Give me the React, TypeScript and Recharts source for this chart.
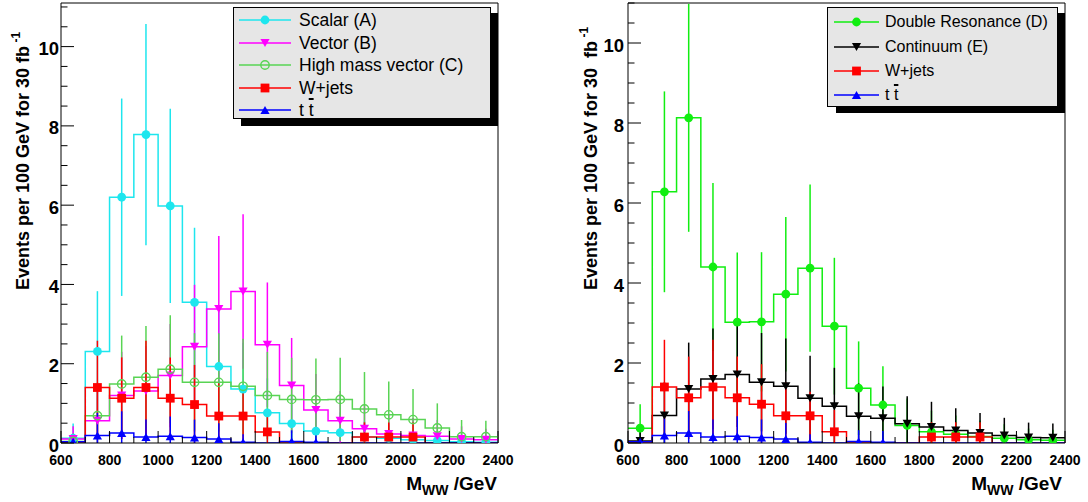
import React from 'react';
import { ComposedChart, Line, Scatter, ErrorBar, XAxis, YAxis, ReferenceLine, Label } from 'recharts';

// ---------- categories / ticks ----------
const binCenters = [650, 750, 850, 950, 1050, 1150, 1250, 1350, 1450, 1550, 1650, 1750, 1850, 1950, 2050, 2150, 2250, 2350];
const BIN_HALF = 50;
const xTicks = [600, 700, 800, 900, 1000, 1100, 1200, 1300, 1400, 1500, 1600, 1700, 1800, 1900, 2000, 2100, 2200, 2300, 2400];
const xTickLabels = [600, 800, 1000, 1200, 1400, 1600, 1800, 2000, 2200, 2400];
const yTicks = [0, 0.5, 1, 1.5, 2, 2.5, 3, 3.5, 4, 4.5, 5, 5.5, 6, 6.5, 7, 7.5, 8, 8.5, 9, 9.5, 10, 10.5, 11];
const yTickLabels = [0, 2, 4, 6, 8, 10];

// ---------- left panel series ----------
const scalarA = [0.12, 2.31, 6.2, 7.78, 5.98, 3.55, 1.93, 1.36, 0.76, 0.49, 0.3, 0.26, 0.15, 0.12, 0.08, 0.06, 0.03, 0.02];
const scalarAErr = [0.37, 1.52, 2.49, 2.79, 2.45, 1.88, 1.39, 1.17, 0.87, 0.7, 0.55, 0.51, 0.39, 0.35, 0.28, 0.25, 0.18, 0.14];
const vectorB = [0.1, 0.56, 1.2, 1.31, 1.7, 2.43, 3.38, 3.82, 2.48, 1.45, 0.83, 0.56, 0.36, 0.23, 0.19, 0.17, 0.1, 0.08];
const vectorBErr = [0.32, 0.75, 1.1, 1.14, 1.3, 1.56, 1.84, 1.95, 1.57, 1.2, 0.91, 0.75, 0.6, 0.48, 0.44, 0.41, 0.32, 0.28];
const highMassC = [0.04, 0.69, 1.49, 1.66, 1.86, 1.53, 1.53, 1.43, 1.2, 1.1, 1.09, 1.1, 0.86, 0.71, 0.59, 0.38, 0.16, 0.16];
const highMassCErr = [0.2, 0.83, 1.22, 1.29, 1.36, 1.24, 1.24, 1.2, 1.1, 1.05, 1.04, 1.05, 0.93, 0.84, 0.77, 0.62, 0.42, 0.4];
const wJets = [0, 1.4, 1.13, 1.4, 1.13, 0.97, 0.68, 0.68, 0.28, 0, 0, 0, 0.15, 0.15, 0.15, 0, 0, 0];
const wJetsErr = [0, 1.18, 1.03, 1.18, 1.03, 1.0, 0.83, 0.6, 0.55, 0, 0, 0, 0.37, 0.37, 0.37, 0, 0, 0];
const ttbar = [0.03, 0.19, 0.25, 0.15, 0.17, 0.14, 0.1, 0.02, 0, 0.04, 0.02, 0, 0, 0, 0, 0, 0, 0];
const ttbarErr = [0.1, 0.57, 0.55, 0.44, 0.5, 0.45, 0.4, 0.2, 0, 0.28, 0.28, 0, 0, 0, 0, 0, 0, 0];

// ---------- right panel series ----------
const doubleResD = [0.37, 6.28, 8.13, 4.4, 3.02, 3.03, 3.72, 4.37, 2.92, 1.37, 0.95, 0.44, 0.28, 0.22, 0.16, 0.12, 0.08, 0.07];
const doubleResDErr = [0.6, 2.51, 2.85, 2.1, 1.74, 1.74, 1.93, 2.09, 1.71, 1.17, 0.97, 0.67, 0.53, 0.47, 0.4, 0.35, 0.28, 0.26];
const continuumE = [0.05, 0.69, 1.35, 1.6, 1.71, 1.52, 1.42, 1.12, 0.92, 0.67, 0.62, 0.48, 0.4, 0.31, 0.25, 0.19, 0.14, 0.13];
const continuumEErr = [0.22, 0.83, 1.16, 1.26, 1.31, 1.23, 1.19, 1.06, 0.96, 0.82, 0.79, 0.69, 0.63, 0.56, 0.5, 0.44, 0.37, 0.36];

// ---------- styles ----------
const FONT = '"Liberation Sans", Arial, Helvetica, sans-serif';
const C_CYAN = '#1ee6ee';
const C_MAG = '#ff00ff';
const C_HMV = '#59d454';
const C_RED = '#ff0000';
const C_BLUE = '#0000ff';
const C_GREEN = '#11ee11';
const C_BLACK = '#000000';

type MarkerKind = 'circle' | 'open' | 'square' | 'down' | 'up';

function MarkerShape({ kind, cx, cy, color }: { kind: MarkerKind; cx: number; cy: number; color: string }) {
  if (cx == null || cy == null || isNaN(cx) || isNaN(cy)) return <g />;
  switch (kind) {
    case 'circle':
      return <circle cx={cx} cy={cy} r={4.4} fill={color} />;
    case 'open':
      return <circle cx={cx} cy={cy} r={4.2} fill="none" stroke={color} strokeWidth={1.4} />;
    case 'square':
      return <rect x={cx - 4.4} y={cy - 4.4} width={8.8} height={8.8} fill={color} />;
    case 'down':
      return <polygon points={`${cx - 4.6},${cy - 4} ${cx + 4.6},${cy - 4} ${cx},${cy + 4}`} fill={color} />;
    case 'up':
      return <polygon points={`${cx - 4.6},${cy + 4} ${cx + 4.6},${cy + 4} ${cx},${cy - 4}`} fill={color} />;
  }
  return <g />;
}

interface SeriesDef {
  name: string;
  vals: number[];
  errs: number[];
  color: string;
  marker: MarkerKind;
}

function stepData(vals: number[]) {
  const pts = binCenters.map((c, i) => ({ x: c - BIN_HALF, y: vals[i] }));
  pts.push({ x: binCenters[binCenters.length - 1] + BIN_HALF, y: vals[vals.length - 1] });
  return pts;
}

function pointData(vals: number[], errs: number[]) {
  return binCenters
    .map((c, i) => ({ x: c, y: vals[i], err: [Math.min(errs[i], vals[i]), errs[i]] }))
    .filter((p) => p.y > 0);
}

const leftSeries: SeriesDef[] = [
  { name: 'A', vals: scalarA, errs: scalarAErr, color: C_CYAN, marker: 'circle' },
  { name: 'B', vals: vectorB, errs: vectorBErr, color: C_MAG, marker: 'down' },
  { name: 'C', vals: highMassC, errs: highMassCErr, color: C_HMV, marker: 'open' },
  { name: 'W', vals: wJets, errs: wJetsErr, color: C_RED, marker: 'square' },
  { name: 'T', vals: ttbar, errs: ttbarErr, color: C_BLUE, marker: 'up' },
];

const rightSeries: SeriesDef[] = [
  { name: 'D', vals: doubleResD, errs: doubleResDErr, color: C_GREEN, marker: 'circle' },
  { name: 'E', vals: continuumE, errs: continuumEErr, color: C_BLACK, marker: 'down' },
  { name: 'W', vals: wJets, errs: wJetsErr, color: C_RED, marker: 'square' },
  { name: 'T', vals: ttbar, errs: ttbarErr, color: C_BLUE, marker: 'up' },
];

const X_TM = 4;

function XTick(p: any) {
  const { x, y, payload } = p;
  const axisY = y - X_TM;
  const v = payload.value;
  const major = xTickLabels.includes(v);
  return (
    <g>
      <line x1={x} x2={x} y1={axisY} y2={axisY - (major ? 12 : 6)} stroke="#000" strokeWidth={1} />
      {major && (
        <text x={x} y={axisY + 22} textAnchor="middle" fontFamily={FONT} fontWeight="bold" fontSize={14} fill="#000">
          {v}
        </text>
      )}
    </g>
  );
}

function makeYTick(tm: number) {
  return (p: any) => {
    const { x, y, payload } = p;
    const axisX = x + tm;
    const v = payload.value;
    const major = yTickLabels.includes(v);
    return (
      <g>
        <line x1={axisX} x2={axisX + (major ? 13 : 6.5)} y1={y} y2={y} stroke="#000" strokeWidth={1} />
        {major && (
          <text x={x} y={y + 8.5} textAnchor="end" fontFamily={FONT} fontWeight="bold" fontSize={18.5} fill="#000">
            {v}
          </text>
        )}
      </g>
    );
  };
}

function Panel({
  width,
  yAxisWidth,
  marginRight,
  yMax,
  series,
  yTitle,
  yTitleX,
  xTitleEnd,
  tickMargin,
}: {
  width: number;
  yAxisWidth: number;
  marginRight: number;
  yMax: number;
  series: SeriesDef[];
  yTitle: string;
  yTitleX: number;
  xTitleEnd: number;
  tickMargin: number;
}) {
  const ticks = yTicks.filter((t) => t <= yMax);
  return (
    <ComposedChart width={width} height={502} margin={{ top: 3, right: marginRight, bottom: 0, left: 0 }}>
      <XAxis
        dataKey="x"
        type="number"
        domain={[600, 2400]}
        allowDataOverflow
        ticks={xTicks}
        interval={0}
        tickSize={0}
        tickMargin={X_TM}
        tickLine={false}
        tick={XTick}
        axisLine={{ stroke: '#000', strokeWidth: 1 }}
        height={59}
      >
        <Label
          content={() => (
            <text x={xTitleEnd} y={490} textAnchor="end" fontFamily={FONT} fontWeight="bold" fontSize={19} fill="#000">
              M
              <tspan fontSize={14} dy={5}>WW</tspan>
              <tspan dy={-5}> /GeV</tspan>
            </text>
          )}
        />
      </XAxis>
      <YAxis
        dataKey="y"
        type="number"
        domain={[0, yMax]}
        allowDataOverflow
        ticks={ticks}
        interval={0}
        tickSize={0}
        tickMargin={tickMargin}
        tickLine={false}
        tick={makeYTick(tickMargin)}
        axisLine={{ stroke: '#000', strokeWidth: 1 }}
        width={yAxisWidth}
      >
        <Label
          content={() => (
            <text
              x={yTitleX}
              y={290}
              transform={`rotate(-90, ${yTitleX}, 290)`}
              textAnchor="start"
              fontFamily={FONT}
              fontWeight="bold"
              fontSize={18}
              fill="#000"
              style={{ whiteSpace: 'pre' }}
            >
              {yTitle}
              <tspan fontSize={12} dy={-9}> -1</tspan>
            </text>
          )}
        />
      </YAxis>
      <ReferenceLine y={yMax} stroke="#000" strokeWidth={1} />
      <ReferenceLine x={2400} stroke="#000" strokeWidth={1} />
      {series.map((s) => (
        <Line
          key={'l' + s.name}
          data={stepData(s.vals)}
          dataKey="y"
          type="stepAfter"
          stroke={s.color}
          strokeWidth={1.5}
          dot={false}
          activeDot={false}
          isAnimationActive={false}
        />
      ))}
      {series.map((s) => (
        <Scatter
          key={'s' + s.name}
          data={pointData(s.vals, s.errs)}
          dataKey="y"
          fill={s.color}
          isAnimationActive={false}
          shape={(p: any) => <MarkerShape kind={s.marker} cx={p.cx} cy={p.cy} color={s.color} />}
        >
          <ErrorBar dataKey="err" direction="y" width={0} stroke={s.color} strokeWidth={1.5} />
        </Scatter>
      ))}
    </ComposedChart>
  );
}

interface LegendRow {
  label: React.ReactNode;
  color: string;
  marker: MarkerKind;
}

const ttLabel = (
  <span>
    t <span style={{ textDecoration: 'overline', textDecorationThickness: '2px' }}>t</span>
  </span>
);

const leftLegendRows: LegendRow[] = [
  { label: 'Scalar (A)', color: C_CYAN, marker: 'circle' },
  { label: 'Vector (B)', color: C_MAG, marker: 'down' },
  { label: 'High mass vector (C)', color: C_HMV, marker: 'open' },
  { label: 'W+jets', color: C_RED, marker: 'square' },
  { label: ttLabel, color: C_BLUE, marker: 'up' },
];

const rightLegendRows: LegendRow[] = [
  { label: 'Double Resonance (D)', color: C_GREEN, marker: 'circle' },
  { label: 'Continuum (E)', color: C_BLACK, marker: 'down' },
  { label: 'W+jets', color: C_RED, marker: 'square' },
  { label: ttLabel, color: C_BLUE, marker: 'up' },
];

function LegendBox({
  left,
  top,
  width,
  height,
  shadow,
  rows,
  fontSize,
  rowStart,
  rowStep,
  lineX1,
  lineX2,
  textX,
}: {
  left: number;
  top: number;
  width: number;
  height: number;
  shadow: { left: number; top: number; right: number; bottom: number };
  rows: LegendRow[];
  fontSize: number;
  rowStart: number;
  rowStep: number;
  lineX1: number;
  lineX2: number;
  textX: number;
}) {
  const mx = (lineX1 + lineX2) / 2;
  return (
    <>
      <div
        style={{
          position: 'absolute',
          left: shadow.left,
          top: shadow.top,
          width: shadow.right - shadow.left,
          height: shadow.bottom - shadow.top,
          background: '#000',
        }}
      />
      <div
        style={{
          position: 'absolute',
          left,
          top,
          width,
          height,
          boxSizing: 'border-box',
          border: '1px solid #000',
          background: '#e6e6e6',
        }}
      >
        {rows.map((r, i) => {
          const cy = rowStart + i * rowStep;
          return (
            <React.Fragment key={i}>
              <svg
                style={{ position: 'absolute', left: 0, top: cy - 8, overflow: 'visible' }}
                width={lineX2 + 2}
                height={16}
              >
                <line x1={lineX1} x2={lineX2} y1={8} y2={8} stroke={r.color} strokeWidth={1.3} />
                <MarkerShape kind={r.marker} cx={mx} cy={8} color={r.color} />
              </svg>
              <div
                style={{
                  position: 'absolute',
                  left: textX,
                  top: cy - 11,
                  height: 22,
                  lineHeight: '22px',
                  fontFamily: FONT,
                  fontSize,
                  color: '#000',
                  whiteSpace: 'nowrap',
                }}
              >
                {r.label}
              </div>
            </React.Fragment>
          );
        })}
      </div>
    </>
  );
}

export default function App() {
  return (
    <div
      style={{
        position: 'absolute',
        left: 0,
        top: 0,
        width: 1088,
        height: 502,
        background: '#fff',
        overflow: 'hidden',
      }}
    >
      <div style={{ position: 'absolute', left: 0, top: 0, width: 544, height: 502 }}>
        <Panel
          width={544}
          yAxisWidth={61}
          marginRight={46}
          yMax={11.1}
          series={leftSeries}
          yTitle="Events per 100 GeV for 30 fb"
          yTitleX={28.5}
          xTitleEnd={497}
          tickMargin={2}
        />
      </div>
      <div style={{ position: 'absolute', left: 544, top: 0, width: 544, height: 502 }}>
        <Panel
          width={544}
          yAxisWidth={84}
          marginRight={23}
          yMax={11}
          series={rightSeries}
          yTitle="Events per 100 GeV for 30  fb"
          yTitleX={52.5}
          xTitleEnd={518}
          tickMargin={4}
        />
      </div>
      <LegendBox
        left={233}
        top={7}
        width={258}
        height={112}
        shadow={{ left: 241, top: 13, right: 498, bottom: 126 }}
        rows={leftLegendRows}
        fontSize={17.5}
        rowStart={12}
        rowStep={22.6}
        lineX1={5}
        lineX2={57}
        textX={65}
      />
      <LegendBox
        left={827}
        top={7}
        width={231}
        height={100}
        shadow={{ left: 836, top: 13, right: 1065, bottom: 113 }}
        rows={rightLegendRows}
        fontSize={16}
        rowStart={14.4}
        rowStep={24.2}
        lineX1={6}
        lineX2={51}
        textX={57}
      />
    </div>
  );
}
